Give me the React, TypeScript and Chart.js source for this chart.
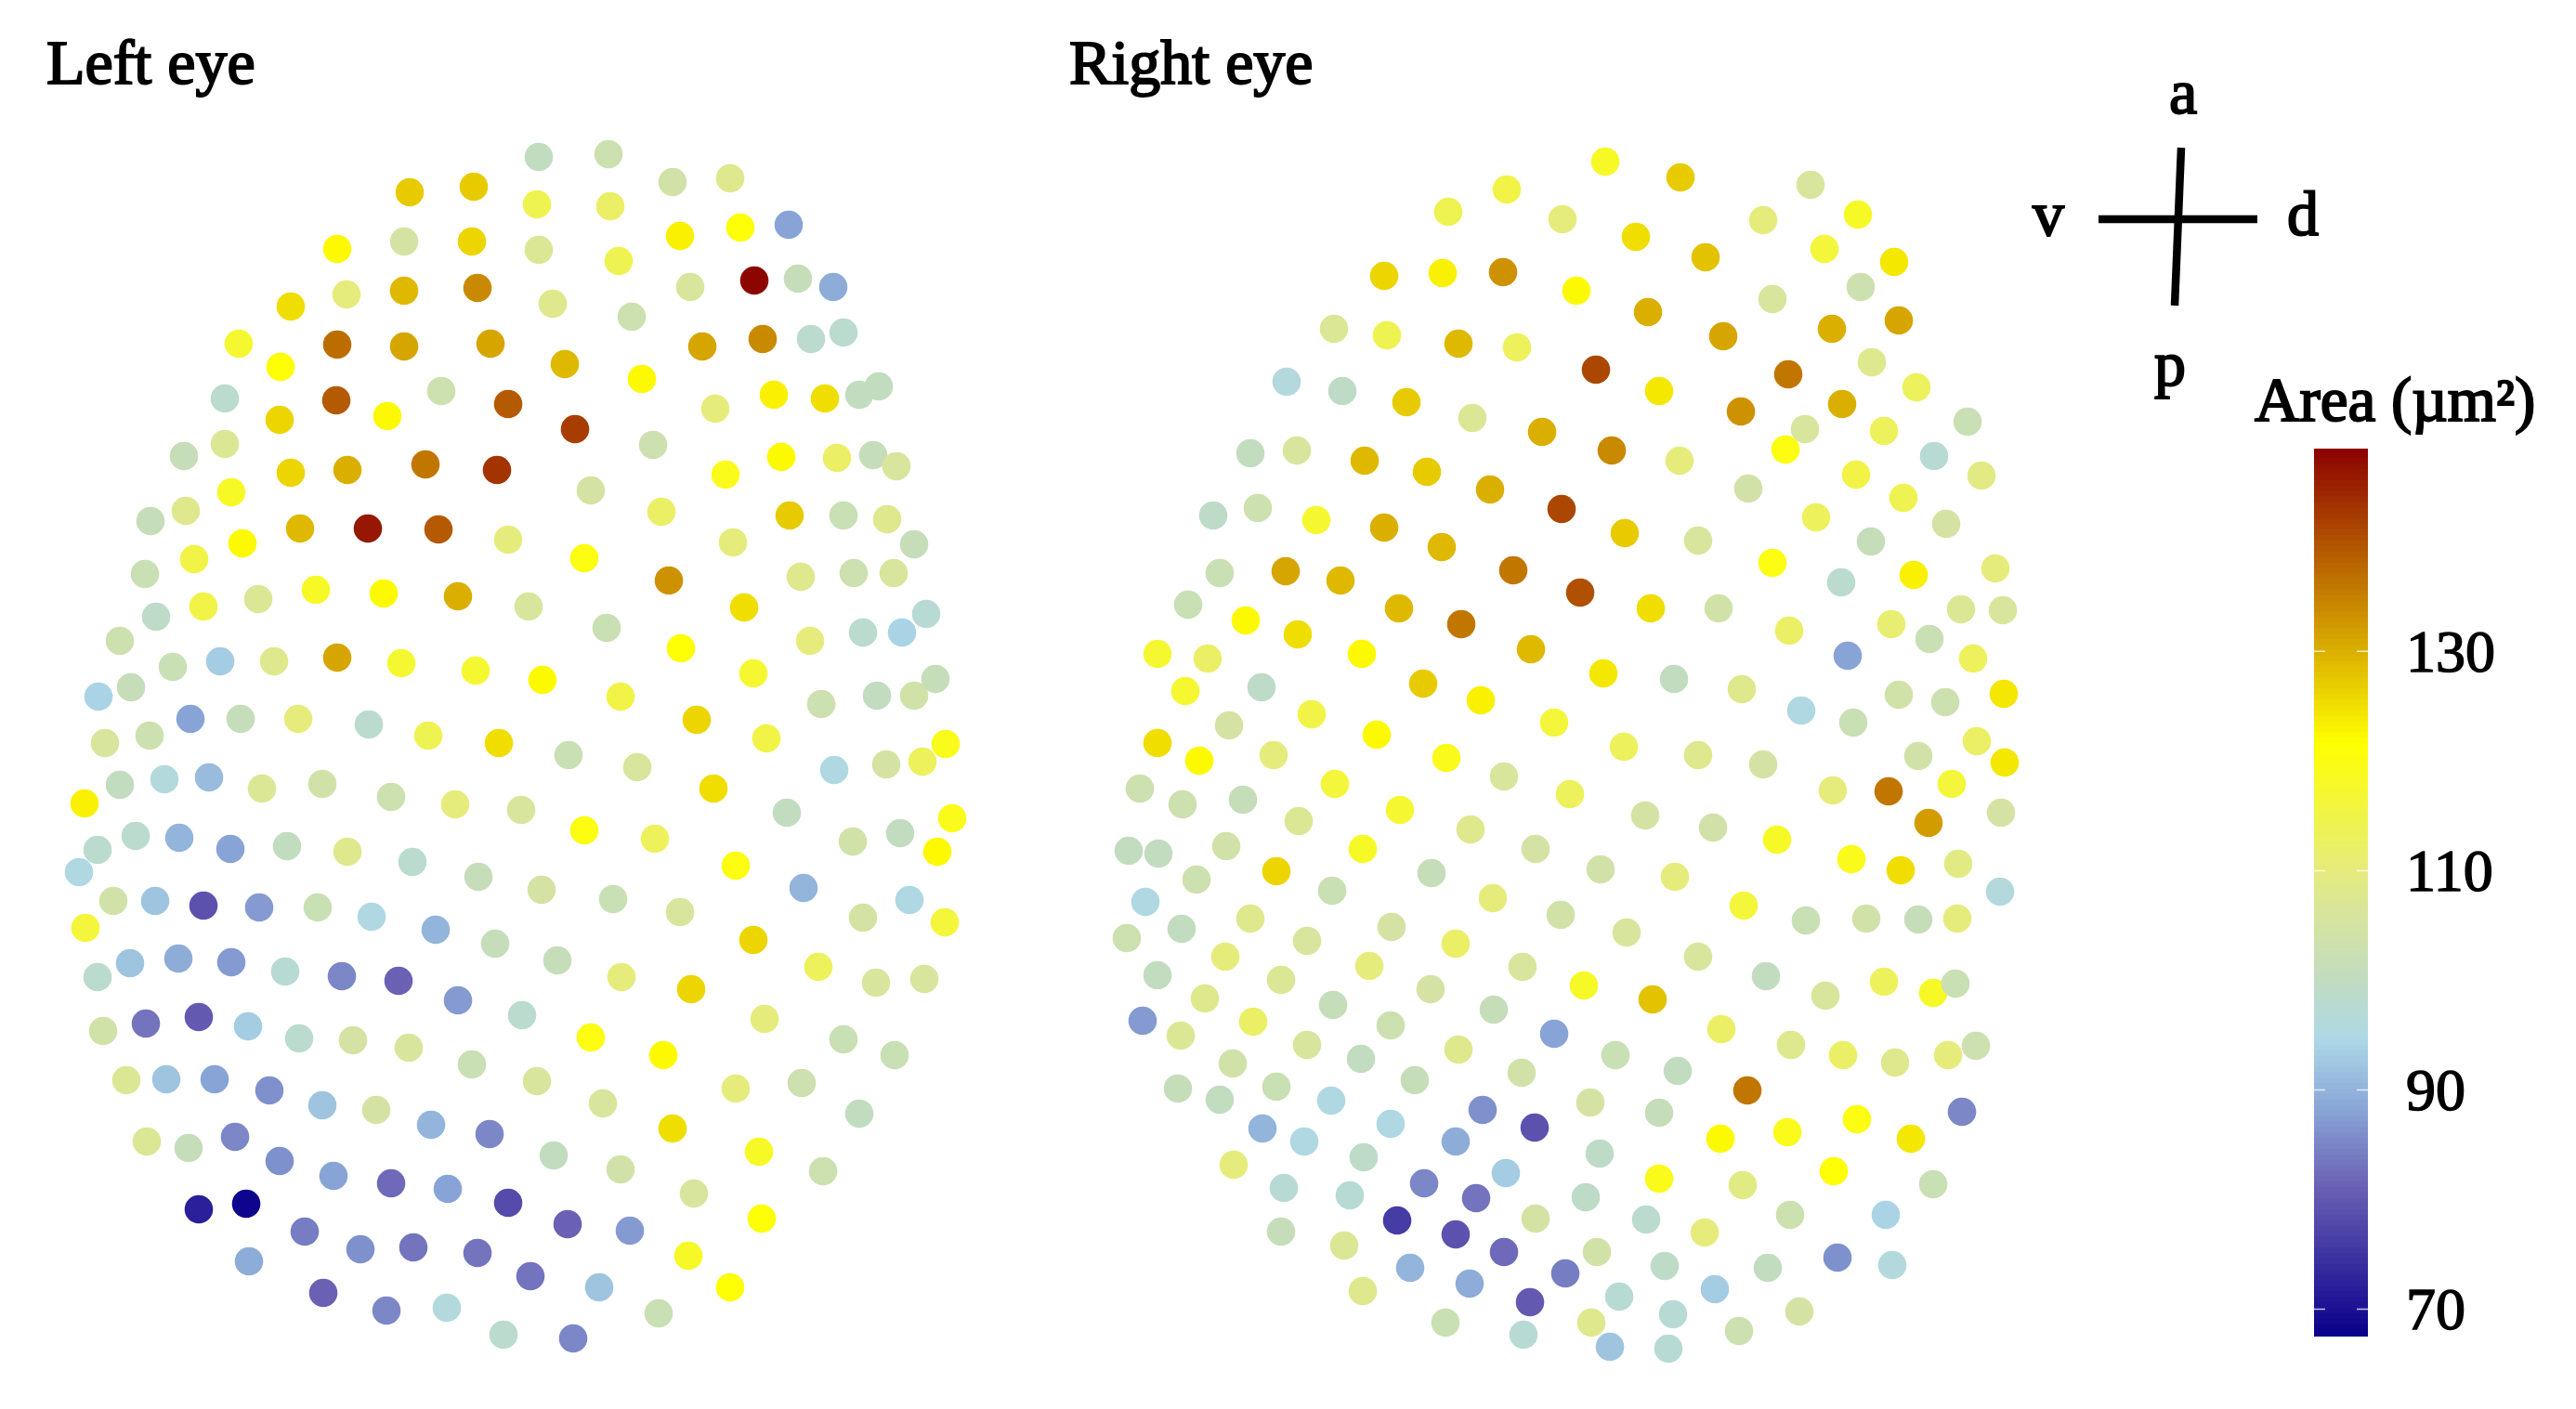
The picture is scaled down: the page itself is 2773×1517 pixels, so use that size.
import React, { useEffect, useRef } from "react";
import { Chart, registerables } from "chart.js";

Chart.register(...registerables);

const WIDTH = 2773;
const HEIGHT = 1517;

const leftX = [
  441,510,363,435,508,313,373,435,514,257,
  302,363,435,528,242,301,362,417,475,547,
  242,198,313,374,458,535,249,200,162,261,
  323,396,472,547,209,156,340,413,493,278,
  219,168,129,186,237,295,363,432,512,106,141,
  205,259,321,397,461,537,113,161,129,177,225,91,282,347,421,490,
  146,193,105,248,309,374,444,515,85,
  122,167,219,279,342,400,469,533,92,
  140,192,249,105,307,368,429,493,
  111,157,214,267,322,380,440,508,
  136,179,231,290,347,405,464,527,
  158,203,253,301,359,421,482,547,214,265,
  328,388,445,514,268,348,416,481,542,
  580,655,724,786,578,657,732,797,849,580,666,743,812,859,897,
  595,680,756,821,873,908,608,691,770,833,888,925,946,
  619,703,781,841,901,940,965,636,712,850,908,955,984,789,
  629,720,862,919,962,569,653,801,872,929,971,997,
  584,668,733,811,884,944,984,1007,750,825,
  612,686,768,898,954,993,1018,847,561,629,705,792,918,969,1025,1009,
  583,660,732,865,929,979,1017,811,600,669,744,881,943,995,
  562,823,908,963,636,714,578,649,792,863,925,724,
  596,668,817,886,747,611,678,820,741,571,645,786,709,617,
];
const leftY = [
  207,201,268,260,260,330,317,313,310,370,
  395,371,373,370,429,452,431,448,421,435,
  478,491,509,506,500,506,530,550,561,585,
  569,569,570,581,602,618,635,639,642,645,
  653,664,690,718,712,712,708,714,722,750,740,
  774,774,774,780,792,800,800,792,845,839,837,865,849,844,858,866,
  900,902,915,914,911,917,928,944,939,
  970,970,975,977,977,987,1001,1016,999,
  1037,1032,1036,1052,1046,1051,1056,1077,
  1110,1102,1095,1105,1118,1120,1128,1146,
  1163,1162,1162,1174,1190,1195,1211,1221,
  1229,1236,1224,1250,1266,1274,1280,1295,1302,1296,
  1326,1345,1343,1349,1358,1392,1411,1408,1437,
  169,166,196,192,220,222,254,245,242,269,281,309,302,300,309,
  327,341,373,365,365,358,392,408,440,425,429,425,416,
  462,479,511,492,493,490,502,528,551,555,555,559,586,584,
  601,625,621,617,617,653,676,654,690,681,681,661,
  732,750,698,725,758,749,749,731,775,795,
  813,826,849,829,823,820,801,875,872,894,903,932,906,897,881,917,
  958,968,982,956,988,969,993,1012,1034,1052,1065,1041,1058,1054,
  1093,1097,1119,1136,1117,1136,1164,1188,1172,1166,1199,1215,
  1244,1259,1240,1261,1285,1318,1325,1312,1352,1374,1386,1386,1414,1441,
];
const leftArea = [
  127,127,122,105,126,125,110,129,134,117,
  121,137,131,131,98,126,139,122,103,139,
  107,101,126,130,136,143,118,108,101,122,
  129,146,139,110,115,102,118,122,130,107,
  115,99,103,102,93,108,131,117,117,94,101,
  88,101,110,98,114,125,106,103,100,96,91,123,107,104,103,110,
  98,90,98,88,100,108,98,101,95,
  104,92,79,87,102,95,90,101,116,
  92,89,87,98,97,85,81,87,
  104,83,80,93,98,105,106,102,
  107,92,88,86,92,105,90,85,
  107,101,85,86,88,82,88,78,72,68,
  84,86,83,83,89,81,85,96,98,
  100,103,104,108,114,112,123,121,88,107,114,106,148,101,89,
  108,103,131,134,98,98,129,122,110,123,125,100,100,
  142,103,119,122,112,101,106,105,112,127,102,108,101,110,
  120,133,108,103,106,106,102,125,110,98,94,97,
  122,115,121,117,103,100,104,101,126,115,
  102,106,125,95,105,113,119,100,106,120,113,120,104,100,119,122,
  105,102,106,90,105,95,116,126,101,110,126,113,106,106,
  98,110,102,102,120,122,106,106,110,103,100,125,
  100,104,118,103,106,81,87,121,118,83,92,121,102,85,
];

const rightX = [
  1622,1559,1682,1490,1553,1618,1697,1436,1493,1570,1633,1385,1445,1514,1585,1660,
  1346,1396,1469,1536,1604,1681,1354,1306,1417,1490,1552,1313,1384,1443,1629,
  1279,1341,1397,1506,1573,1701,1246,1300,1466,1648,1276,1358,1532,1594,1412,1323,1673,1246,1482,1371,
  1728,1809,1949,1898,2000,1761,1836,1964,2039,2003,1908,1774,1855,1972,2044,2015,1718,1925,1786,2063,
  1874,1983,1943,2028,2118,1922,1735,1808,2082,1998,2133,1882,2049,1955,2095,1749,1828,2014,1908,2148,
  1982,2060,1777,1850,2111,2156,1926,2036,2077,1989,2124,1726,1802,1875,2044,2094,2157,1939,1995,
  1748,1828,1898,2065,2128,2158,
  1973,2033,2101,2076,2154,1690,1771,1844,1913,1723,1803,1993,2046,2108,2153,1877,1751,1944,2009,2065,2107,
  1828,1901,1965,2028,2081,2105,1705,1779,1853,1928,1984,2040,2097,2127,1739,1806,1712,1786,1881,2112,
  1999,1924,1852,2057,1722,1974,1786,1876,2081,1707,1927,1772,2030,1835,1719,1792,1903,1978,2037,1846,
  1743,1801,1937,1713,1872,1733,1796,
  1291,1437,1557,1619,1227,1273,1338,1398,1507,1583,1215,1247,1320,1288,1374,1467,1541,1653,1434,1233,
  1272,1213,1346,1407,1498,1607,1680,1319,1567,1246,1379,1474,1639,1297,1540,1435,1230,1271,1349,1497,
  1608,1407,1673,1327,1465,1570,1523,1638,1268,1313,1374,1433,1596,1359,1404,1497,1567,1652,1468,1328,
  1382,1533,1621,1453,1589,1504,1653,1567,1379,1447,1619,1518,1582,1685,1467,1647,1556,1640,
];
const rightY = [
  204,228,236,297,294,293,313,354,361,370,374,411,421,433,450,465,
  488,485,496,508,527,548,547,555,560,568,589,617,615,625,614,
  651,668,683,655,672,638,704,709,704,699,744,740,736,754,769,781,778,800,791,813,
  174,191,199,237,231,255,277,268,282,309,322,336,362,354,345,390,398,403,421,417,
  443,435,462,464,454,484,485,496,491,511,512,526,536,557,564,574,582,583,606,612,
  627,619,655,655,656,657,679,672,688,706,709,725,731,742,748,756,747,765,778,
  804,813,823,814,798,821,
  851,852,844,886,875,855,878,891,904,936,944,925,937,930,960,975,1004,991,989,990,989,
  1030,1051,1072,1057,1069,1059,1061,1076,1108,1125,1136,1144,1136,1126,1136,1153,1187,1198,1174,1197,
  1205,1219,1226,1226,1242,1261,1269,1276,1275,1289,1308,1313,1308,1327,1348,1363,1365,1354,1362,1388,
  1396,1415,1412,1424,1433,1450,1452,
  819,844,816,836,849,866,861,884,872,893,916,919,911,947,938,914,940,914,959,971,
  1000,1010,989,1013,998,967,985,1030,1016,1050,1055,1040,1041,1075,1065,1082,1099,1115,1100,1104,
  1087,1125,1113,1145,1140,1130,1163,1155,1172,1184,1170,1185,1195,1215,1229,1210,1229,1214,1246,1254,
  1279,1274,1263,1287,1290,1314,1312,1329,1326,1341,1348,1365,1382,1371,1390,1402,1424,1437,
];
const rightArea = [
  115,114,110,126,123,133,122,107,114,129,113,96,99,127,107,130,
  100,106,129,127,130,141,103,99,117,130,129,102,131,129,136,
  102,122,125,129,136,140,117,112,122,129,117,99,127,123,115,105,116,125,122,110,
  118,127,106,110,118,125,128,116,124,103,106,130,131,130,131,108,141,136,124,113,
  133,130,106,113,102,120,134,110,97,115,109,104,114,113,105,127,106,101,120,110,
  98,123,125,104,107,106,112,111,102,88,113,124,100,108,104,103,124,95,102,
  113,108,105,104,112,124,
  110,136,116,132,105,113,105,104,118,104,110,119,125,109,96,116,106,102,104,101,110,
  106,100,106,113,118,102,118,128,112,108,112,108,110,103,102,100,105,101,136,85,
  120,119,122,124,99,121,119,109,102,99,103,98,94,110,104,99,100,86,96,93,
  97,97,105,108,103,92,97,
  122,116,119,106,103,103,101,107,117,108,100,100,104,103,126,118,101,105,102,95,
  100,103,108,106,105,110,104,110,112,100,107,110,106,108,105,101,87,107,112,103,
  101,106,88,104,100,108,101,104,101,100,102,95,86,90,95,95,89,79,99,110,
  97,85,93,97,83,76,105,79,101,107,82,90,89,84,108,80,102,97,
];

const colorStops = [67.5, 81, 88, 94.5, 100, 105.5, 110, 121.5, 148.5];
const colorRamp = [
  [10, 0, 139], [106, 96, 180], [136, 164, 214], [173, 216, 230], [194, 220, 192],
  [214, 228, 160], [230, 236, 124], [255, 255, 0], [139, 0, 0],
];

const barLevels = Array.from({ length: 162 }, (_, i) => 67.5 + i * 0.5);
const barTicks = [70, 90, 110, 130];

const panelTitles = ["Left eye", "Right eye"];
const compassLabels = ["a", "v", "d", "p"];
const legendTitle = "Area (µm²)";

const compassHX = [2259, 2430];
const compassHY = [236, 236];
const compassVX = [2348, 2341];
const compassVY = [159, 329];

const SERIF = '"Liberation Serif", "Times New Roman", serif';

function areaColor(v: number): string {
  let i = 0;
  while (i < colorStops.length - 2 && v > colorStops[i + 1]) i++;
  const t = Math.max(0, Math.min(1, (v - colorStops[i]) / (colorStops[i + 1] - colorStops[i])));
  const c = colorRamp[i].map((a, k) => Math.round(a + (colorRamp[i + 1][k] - a) * t));
  return `rgb(${c[0]},${c[1]},${c[2]})`;
}

const points = (xs: number[], ys: number[]) => xs.map((x, i) => ({ x, y: ys[i] }));

const textPlugin = {
  id: "figureText",
  afterDatasetsDraw(chart: any) {
    const { ctx, scales } = chart;
    const put = (s: string, x: number, y: number, size: number, align: CanvasTextAlign) => {
      ctx.save();
      ctx.font = `${size}px ${SERIF}`;
      ctx.fillStyle = "#000";
      ctx.strokeStyle = "#000";
      ctx.lineWidth = 2;
      ctx.textAlign = align;
      ctx.textBaseline = "alphabetic";
      const px = scales.x.getPixelForValue(x);
      const py = scales.y.getPixelForValue(y);
      ctx.fillText(s, px, py);
      ctx.strokeText(s, px, py);
      ctx.restore();
    };
    put(panelTitles[0], 50, 90, 68, "left");
    put(panelTitles[1], 1151, 90, 68, "left");
    put(compassLabels[0], 2350, 122, 68, "center");
    put(compassLabels[1], 2205, 253, 68, "center");
    put(compassLabels[2], 2479, 253, 68, "center");
    put(compassLabels[3], 2336, 415, 68, "center");
    put(legendTitle, 2427, 453, 67, "left");
  },
};

const barTickPlugin = {
  id: "barTicks",
  afterDatasetsDraw(chart: any) {
    const { ctx, chartArea, scales } = chart;
    ctx.save();
    ctx.strokeStyle = "rgba(255,255,255,0.75)";
    ctx.lineWidth = 1.5;
    barTicks.forEach((t) => {
      const y = scales.y.getPixelForValue(t);
      ctx.beginPath();
      ctx.moveTo(chartArea.left, y);
      ctx.lineTo(chartArea.left + 12, y);
      ctx.moveTo(chartArea.right - 12, y);
      ctx.lineTo(chartArea.right, y);
      ctx.stroke();
    });
    ctx.restore();
  },
};

export default function App() {
  const mainRef = useRef<HTMLCanvasElement>(null);
  const barRef = useRef<HTMLCanvasElement>(null);

  useEffect(() => {
    const dot = (xs: number[], ys: number[], areas: number[], label: string) => ({
      type: "scatter" as const,
      label,
      data: points(xs, ys),
      pointRadius: 15.3,
      pointHoverRadius: 15.3,
      pointBorderWidth: 0,
      pointBackgroundColor: areas.map(areaColor),
    });
    const stroke = (xs: number[], ys: number[], label: string) => ({
      type: "scatter" as const,
      label,
      data: points(xs, ys),
      showLine: true,
      pointRadius: 0,
      borderColor: "#000",
      borderWidth: 8.5,
      borderCapStyle: "butt" as const,
    });

    const main = new Chart(mainRef.current!, {
      type: "scatter",
      data: {
        datasets: [
          dot(leftX, leftY, leftArea, "Left eye"),
          dot(rightX, rightY, rightArea, "Right eye"),
          stroke(compassHX, compassHY, "v-d"),
          stroke(compassVX, compassVY, "a-p"),
        ],
      },
      options: {
        responsive: false,
        animation: false,
        layout: { padding: 0, autoPadding: false },
        plugins: { legend: { display: false }, tooltip: { enabled: false } },
        scales: {
          x: { type: "linear", min: 0, max: WIDTH, display: false },
          y: { type: "linear", min: 0, max: HEIGHT, reverse: true, display: false },
        },
      },
      plugins: [textPlugin],
    } as any);

    const bar = new Chart(barRef.current!, {
      type: "bar",
      data: {
        labels: ["Area"],
        datasets: barLevels.map((v) => ({
          data: [[v, v + 0.6]],
          backgroundColor: areaColor(v + 0.25),
          borderWidth: 0,
          barPercentage: 1,
          categoryPercentage: 1,
        })),
      },
      options: {
        responsive: false,
        animation: false,
        layout: { padding: { left: 2491, top: 483, bottom: HEIGHT - 1439, right: 0 }, autoPadding: false },
        plugins: { legend: { display: false }, tooltip: { enabled: false } },
        scales: {
          x: { stacked: true, display: false },
          y: {
            type: "linear",
            position: "right",
            min: 67.5,
            max: 148.5,
            grid: { display: false, drawTicks: false },
            border: { display: false },
            afterBuildTicks(scale: any) {
              scale.ticks = barTicks.map((value) => ({ value }));
            },
            afterFit(scale: any) {
              scale.width = WIDTH - 2549;
              scale.paddingTop = 0;
              scale.paddingBottom = 0;
            },
            ticks: {
              padding: 41,
              crossAlign: "near",
              color: "#000",
              labelOffset: 5,
              textStrokeColor: "#000",
              textStrokeWidth: 1.5,
              font: { family: SERIF, size: 64 },
            },
          },
        },
      },
      plugins: [barTickPlugin],
    } as any);

    return () => {
      main.destroy();
      bar.destroy();
    };
  }, []);

  const layer: React.CSSProperties = { position: "absolute", left: 0, top: 0, display: "block" };
  return (
    <div style={{ position: "absolute", left: 0, top: 0, width: WIDTH, height: HEIGHT, overflow: "hidden", background: "#fff" }}>
      <canvas ref={mainRef} width={WIDTH} height={HEIGHT} style={layer} />
      <canvas ref={barRef} width={WIDTH} height={HEIGHT} style={layer} />
    </div>
  );
}
